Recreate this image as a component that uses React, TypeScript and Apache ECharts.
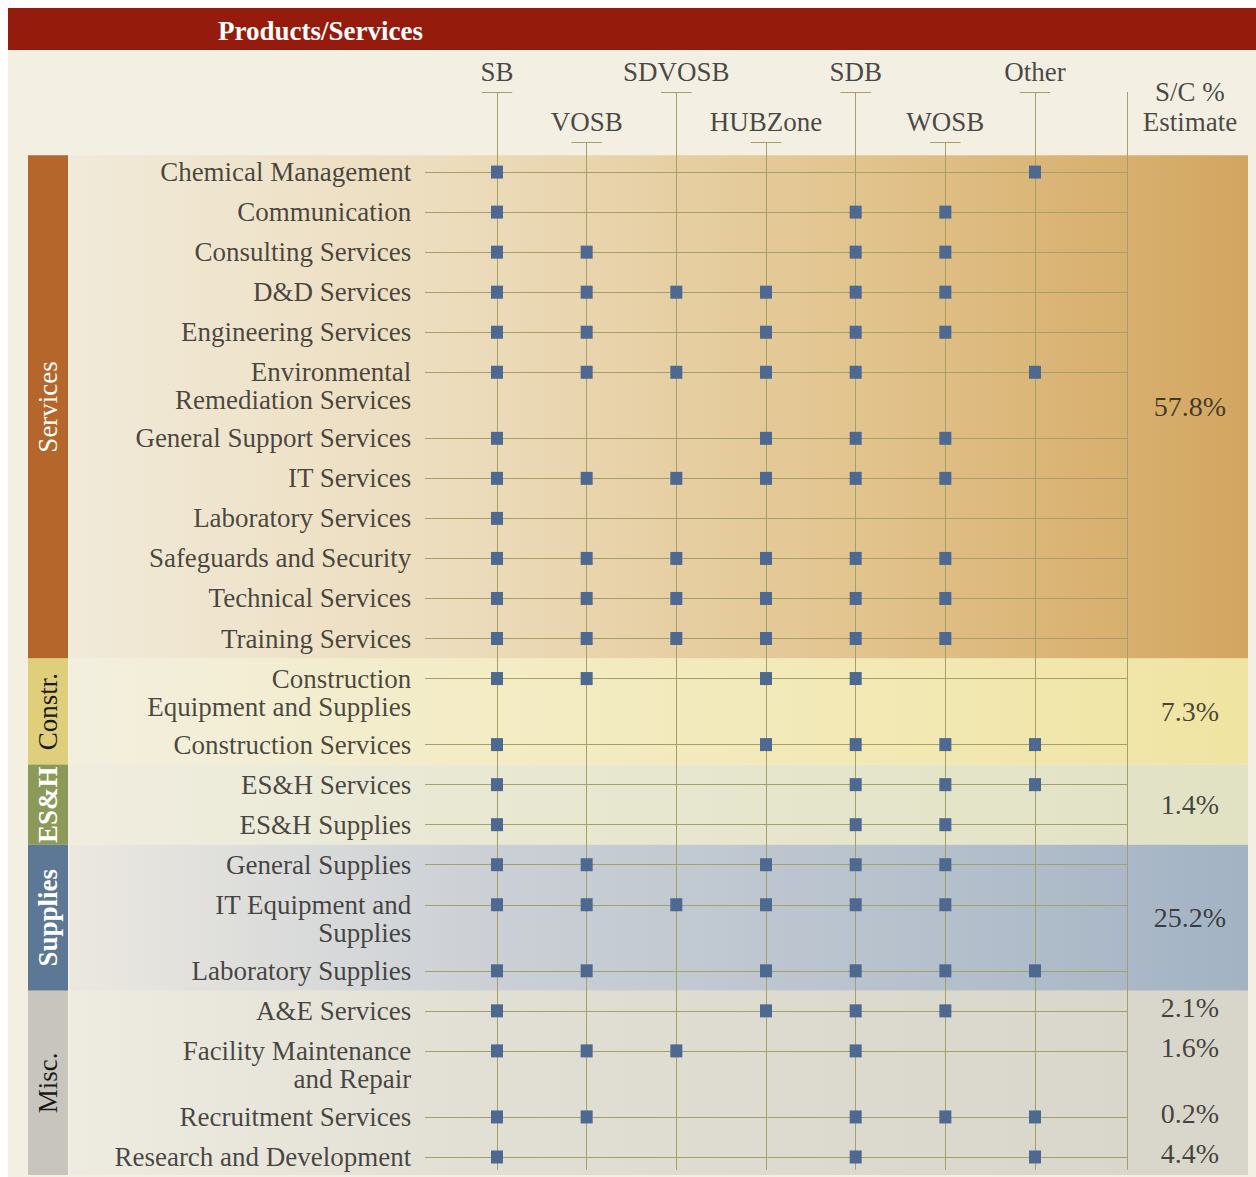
import React, { useEffect, useRef } from 'react';
import * as echarts from 'echarts';

// ---------- DATA ----------
const columns = ['SB', 'VOSB', 'SDVOSB', 'HUBZone', 'SDB', 'WOSB', 'Other'];

const categories = [
  'Chemical Management',
  'Communication',
  'Consulting Services',
  'D&D Services',
  'Engineering Services',
  'Environmental\nRemediation Services',
  'General Support Services',
  'IT Services',
  'Laboratory Services',
  'Safeguards and Security',
  'Technical Services',
  'Training Services',
  'Construction\nEquipment and Supplies',
  'Construction Services',
  'ES&H Services',
  'ES&H Supplies',
  'General Supplies',
  'IT Equipment and\nSupplies',
  'Laboratory Supplies',
  'A&E Services',
  'Facility Maintenance\nand Repair',
  'Recruitment Services',
  'Research and Development',
];

const categoryGroup = [0, 0, 0, 0, 0, 0, 0, 0, 0, 0, 0, 0, 1, 1, 2, 2, 3, 3, 3, 4, 4, 4, 4];

const groups = ['Services', 'Constr.', 'ES&H', 'Supplies', 'Misc.'];
const groupShare = ['57.8%', '7.3%', '1.4%', '25.2%', ''];
const miscShare = ['2.1%', '1.6%', '0.2%', '4.4%'];

// 1 = eligible business type (SB, VOSB, SDVOSB, HUBZone, SDB, WOSB, Other)
const eligibility = [
  [1, 0, 0, 0, 0, 0, 1],
  [1, 0, 0, 0, 1, 1, 0],
  [1, 1, 0, 0, 1, 1, 0],
  [1, 1, 1, 1, 1, 1, 0],
  [1, 1, 0, 1, 1, 1, 0],
  [1, 1, 1, 1, 1, 0, 1],
  [1, 0, 0, 1, 1, 1, 0],
  [1, 1, 1, 1, 1, 1, 0],
  [1, 0, 0, 0, 0, 0, 0],
  [1, 1, 1, 1, 1, 1, 0],
  [1, 1, 1, 1, 1, 1, 0],
  [1, 1, 1, 1, 1, 1, 0],
  [1, 1, 0, 1, 1, 0, 0],
  [1, 0, 0, 1, 1, 1, 1],
  [1, 0, 0, 0, 1, 1, 1],
  [1, 0, 0, 0, 1, 1, 0],
  [1, 1, 0, 1, 1, 1, 0],
  [1, 1, 1, 1, 1, 1, 0],
  [1, 1, 0, 1, 1, 1, 1],
  [1, 0, 0, 1, 1, 1, 0],
  [1, 1, 1, 0, 1, 0, 0],
  [1, 1, 0, 0, 1, 1, 1],
  [1, 0, 0, 0, 1, 0, 1],
];

// ---------- STYLE / LAYOUT ----------
const FONT = 'Liberation Serif';
const TEXT = '#1c1a18';
const GRID_COLOR = '#a5a067';
const MARKER = '#4d6992';

const X_MIN = -5.23;
const X_MAX = 8.375;
const SIDEBAR_END = -4.784;
const BAND_START = -4.762;
const LINE_START = -0.803;
const LABEL_X = -0.95;
const SEP_X = 7.026;
const PCT_X = 7.728;

const Y_MIN = -2;
const Y_MAX = 25.05;
const HEADER_UP = -2;
const HEADER_LO = -0.75;
const LINE_BOTTOM = 24.92;

const bandStops = [
  ['#f1ead9', '#ecdcbc', '#e2c48e', '#d3a660'],
  ['#f3efdf', '#f3ecc6', '#f2e9b6', '#f0e4a2'],
  ['#f0eddf', '#e9e8d3', '#e5e5cb', '#e1e2c4'],
  ['#ebe8e0', '#cdd1d6', '#b9c3ce', '#a3b3c4'],
  ['#eeebe1', '#e2dfd5', '#dcd9ce', '#d8d5ca'],
];
const sideColors = ['#b5662a', '#e0cf7a', '#8b9a58', '#5c7894', '#c8c5be'];
const sideText = ['#ffffff', '#1c1a18', '#ffffff', '#ffffff', '#1c1a18'];
const sideWeight = ['normal', 'normal', 'bold', 'bold', 'normal'];

function buildOption() {
  const rowPos: number[] = [];
  let acc = 0;
  categories.forEach((c, i) => {
    if (i > 0) acc += categories[i - 1].includes('\n') ? 1.65 : 1;
    rowPos.push(acc);
  });

  const bounds = groups.map((g, gi) => {
    const idx = categoryGroup.map((v, i) => (v === gi ? i : -1)).filter((i) => i >= 0);
    const first = idx[0];
    const last = idx[idx.length - 1];
    const top = first === 0 ? rowPos[first] - 0.42 : (rowPos[first - 1] + rowPos[first]) / 2;
    const bottom = last === categories.length - 1 ? rowPos[last] + 0.45 : (rowPos[last] + rowPos[last + 1]) / 2;
    return { top, bottom, first, last, idx };
  });

  const grad = (stops: string[]) =>
    new echarts.graphic.LinearGradient(
      0, 0, 1, 0,
      stops.map((c, i) => ({ offset: i / (stops.length - 1), color: c }))
    );

  const bandAreas = groups.map((g, gi) => [
    { xAxis: BAND_START, yAxis: bounds[gi].top, itemStyle: { color: grad(bandStops[gi]) } },
    { xAxis: X_MAX, yAxis: bounds[gi].bottom },
  ]);
  const sideAreas = groups.map((g, gi) => [
    {
      name: g,
      xAxis: X_MIN,
      yAxis: bounds[gi].top,
      itemStyle: { color: sideColors[gi] },
      label: {
        show: true,
        position: 'inside',
        rotate: 90,
        color: sideText[gi],
        fontWeight: sideWeight[gi],
        fontSize: 27,
        fontFamily: FONT,
        formatter: '{b}',
      },
    },
    { xAxis: SIDEBAR_END, yAxis: bounds[gi].bottom },
  ]);

  const rowLines = rowPos.map((y) => [{ coord: [LINE_START, y] }, { coord: [SEP_X, y] }]);
  const colLines = columns.map((c, i) => [
    { coord: [i, i % 2 === 0 ? HEADER_UP : HEADER_LO] },
    { coord: [i, LINE_BOTTOM] },
  ]);
  const headTicks = columns.map((c, i) => {
    const y = i % 2 === 0 ? HEADER_UP : HEADER_LO;
    return [{ coord: [i - 0.17, y] }, { coord: [i + 0.17, y] }];
  });
  const sepLine = [[{ coord: [SEP_X, HEADER_UP] }, { coord: [SEP_X, LINE_BOTTOM] }]];

  const markers: number[][] = [];
  eligibility.forEach((row, ri) => {
    row.forEach((v, ci) => {
      if (v) markers.push([ci, rowPos[ri]]);
    });
  });

  const labelData = categories.map((c, i) => ({
    value: [LABEL_X, rowPos[i]],
    name: c,
    label: c.includes('\n') ? { offset: [0, 14] } : {},
  }));

  const headerData = columns
    .map((c, i) => ({ value: [i, i % 2 === 0 ? HEADER_UP : HEADER_LO], name: c }))
    .concat([{ value: [PCT_X, HEADER_LO], name: 'S/C %\nEstimate' }]);

  const pctData: any[] = [];
  groups.forEach((g, gi) => {
    if (groupShare[gi]) {
      pctData.push({ value: [PCT_X, (bounds[gi].top + bounds[gi].bottom) / 2], name: groupShare[gi] });
    }
  });
  const miscRows = bounds[4].idx;
  miscShare.forEach((s, k) => {
    pctData.push({ value: [PCT_X, rowPos[miscRows[k]] - 0.08], name: s });
  });

  const textLabel = {
    show: true,
    fontFamily: FONT,
    fontSize: 27,
    color: TEXT,
    lineHeight: 28,
    formatter: '{b}',
  };

  return {
    animation: false,
    backgroundColor: '#ffffff',
    title: {
      text: 'Products/Services',
      left: 213,
      top: 12,
      textStyle: { color: '#ffffff', fontFamily: FONT, fontSize: 27, fontWeight: 'bold' },
    },
    graphic: [
      { type: 'rect', z: 0, shape: { x: 8, y: 50, width: 1248, height: 1127 }, style: { fill: '#f3efe3' }, silent: true },
      { type: 'rect', z: 0, shape: { x: 8, y: 8, width: 1248, height: 42 }, style: { fill: '#951c0c' }, silent: true },
    ],
    grid: { left: 28, right: 8, top: 92, bottom: 2, containLabel: false },
    xAxis: { type: 'value', min: X_MIN, max: X_MAX, show: false },
    yAxis: { type: 'value', min: Y_MIN, max: Y_MAX, inverse: true, show: false },
    series: [
      {
        name: 'bands',
        type: 'scatter',
        z: 1,
        silent: true,
        data: [],
        markArea: { silent: true, z: 1, data: [...bandAreas, ...sideAreas], label: { show: false } },
      },
      {
        name: 'grid lines',
        type: 'scatter',
        z: 2,
        silent: true,
        data: [],
        markLine: {
          silent: true,
          z: 2,
          symbol: ['none', 'none'],
          label: { show: false },
          lineStyle: { color: GRID_COLOR, width: 1, type: 'solid' },
          emphasis: { disabled: true },
          data: [...rowLines, ...colLines, ...headTicks, ...sepLine],
        },
      },
      {
        name: 'eligible',
        type: 'scatter',
        z: 10,
        silent: true,
        symbol: 'rect',
        symbolSize: [12, 13],
        itemStyle: { color: MARKER, opacity: 1 },
        data: markers,
      },
      {
        name: 'row labels',
        type: 'scatter',
        z: 11,
        silent: true,
        symbolSize: 1,
        itemStyle: { color: 'rgba(0,0,0,0)' },
        label: { ...textLabel, position: 'left', distance: 0, align: 'right' },
        data: labelData,
      },
      {
        name: 'headers',
        type: 'scatter',
        z: 11,
        silent: true,
        symbolSize: 1,
        itemStyle: { color: 'rgba(0,0,0,0)' },
        label: { ...textLabel, position: 'top', distance: 5, lineHeight: 30 },
        data: headerData,
      },
      {
        name: 'share',
        type: 'scatter',
        z: 11,
        silent: true,
        symbolSize: 1,
        itemStyle: { color: 'rgba(0,0,0,0)' },
        label: { ...textLabel, fontSize: 28, position: 'inside' },
        data: pctData,
      },
    ],
  };
}

export default function App() {
  const ref = useRef<HTMLDivElement>(null);
  useEffect(() => {
    if (!ref.current) return;
    const chart = echarts.init(ref.current, undefined, { renderer: 'svg' });
    chart.setOption(buildOption() as any);
    return () => chart.dispose();
  }, []);
  return (
    <div
      ref={ref}
      style={{ position: 'absolute', left: 0, top: 0, width: 1256, height: 1177 }}
    />
  );
}
